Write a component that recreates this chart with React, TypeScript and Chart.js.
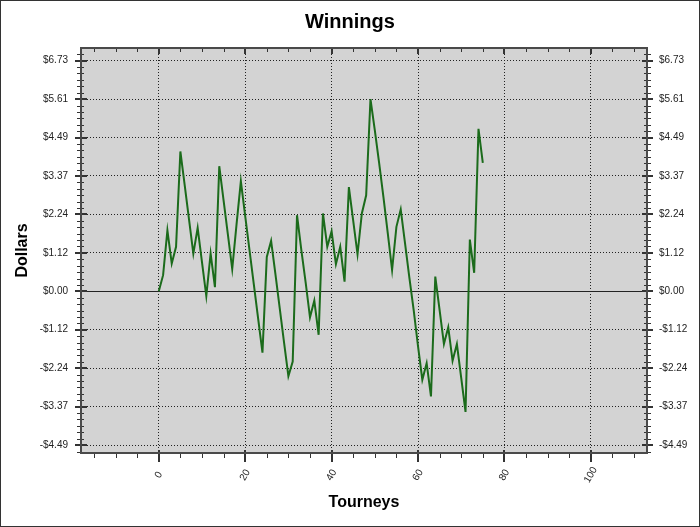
import React, { useEffect, useRef } from 'react';
import { Chart, registerables } from 'chart.js';

Chart.register(...registerables);

const tourneys = [
  0, 1, 2, 3, 4, 5, 6, 7, 8, 9, 10, 11, 12, 13, 14, 15, 16, 17, 18, 19,
  20, 21, 22, 23, 24, 25, 26, 27, 28, 29, 30, 31, 32, 33, 34, 35, 36, 37, 38, 39,
  40, 41, 42, 43, 44, 45, 46, 47, 48, 49, 50, 51, 52, 53, 54, 55, 56, 57, 58, 59,
  60, 61, 62, 63, 64, 65, 66, 67, 68, 69, 70, 71, 72, 73, 74, 75,
];

const winnings = [
  0.0, 0.47, 1.78, 0.81, 1.3, 4.08, 3.1, 2.1, 1.1, 1.85,
  0.85, -0.14, 1.1, 0.12, 3.65, 2.65, 1.65, 0.65, 1.95, 3.21,
  2.2, 1.2, 0.2, -0.8, -1.79, 1.0, 1.47, 0.5, -0.5, -1.5,
  -2.48, -2.05, 2.22, 1.2, 0.25, -0.76, -0.27, -1.27, 2.27, 1.3,
  1.75, 0.79, 1.3, 0.28, 3.04, 2.06, 1.08, 2.27, 2.8, 5.61,
  4.7, 3.75, 2.75, 1.7, 0.62, 1.88, 2.39, 1.4, 0.4, -0.55,
  -1.6, -2.58, -2.1, -3.07, 0.43, -0.55, -1.54, -1.05, -2.03, -1.54,
  -2.53, -3.52, 1.51, 0.54, 4.74, 3.75,
];

const xTickValues = [0, 20, 40, 60, 80, 100];
const yTickValues = [-4.49, -3.37, -2.24, -1.12, 0, 1.12, 2.24, 3.37, 4.49, 5.61, 6.73];

const X_MIN = -18;
const X_MAX = 113;
const Y_MIN = -4.72;
const Y_MAX = 7.1;

const CHART_TITLE = 'Winnings';
const X_TITLE = 'Tourneys';
const Y_TITLE = 'Dollars';

const FONT = '"Liberation Sans", Arial, sans-serif';

const fmtDollar = (v: number) => (v < 0 ? '-$' : '$') + Math.abs(v).toFixed(2);

const decorPlugin = {
  id: 'decor',
  beforeDraw(chart: any) {
    const { ctx, width, height, chartArea: a } = chart;
    ctx.save();
    ctx.fillStyle = '#ffffff';
    ctx.fillRect(0, 0, width, height);
    ctx.fillStyle = '#d3d3d3';
    ctx.fillRect(a.left, a.top, a.right - a.left, a.bottom - a.top);
    ctx.restore();
  },
  beforeDatasetsDraw(chart: any) {
    const { ctx, chartArea: a } = chart;
    const y = chart.scales.y;
    const y0 = Math.round(y.getPixelForValue(0)) + 0.5;
    ctx.save();
    ctx.strokeStyle = '#222222';
    ctx.lineWidth = 1;
    ctx.beginPath();
    ctx.moveTo(a.left, y0);
    ctx.lineTo(a.right, y0);
    ctx.stroke();
    ctx.restore();
  },
  afterDraw(chart: any) {
    const { ctx, chartArea: a, width, height } = chart;
    const xs = chart.scales.x;
    const ys = chart.scales.y;
    const line = (x1: number, y1: number, x2: number, y2: number) => {
      ctx.beginPath();
      ctx.moveTo(x1, y1);
      ctx.lineTo(x2, y2);
      ctx.stroke();
    };
    ctx.save();
    ctx.strokeStyle = '#333333';

    // y ticks (left and right), major + minor
    const first = yTickValues[0];
    const last = yTickValues[yTickValues.length - 1];
    const step = (last - first) / (yTickValues.length - 1);
    const minor = step / 6;
    const kMin = Math.ceil((Y_MIN - first) / minor);
    const kMax = Math.floor((Y_MAX - first) / minor);
    for (let k = kMin; k <= kMax; k++) {
      const v = first + k * minor;
      const isMajor = k % 6 === 0;
      const py = ys.getPixelForValue(v);
      if (isMajor) {
        ctx.lineWidth = 2;
        const yy = Math.round(py);
        line(a.left - 6, yy, a.left + 6, yy);
        line(a.right - 5, yy, a.right + 6, yy);
      } else {
        ctx.lineWidth = 1;
        const yy = Math.round(py) + 0.5;
        line(a.left - 4, yy, a.left + 3, yy);
        line(a.right - 3, yy, a.right + 4, yy);
      }
    }

    // x ticks (bottom outside, top inside)
    for (let v = -15; v <= X_MAX; v += 5) {
      const px = xs.getPixelForValue(v);
      const isMajor = xTickValues.indexOf(v) >= 0;
      if (isMajor) {
        ctx.lineWidth = 2;
        const xx = Math.round(px);
        line(xx, a.bottom - 3, xx, a.bottom + 9);
        line(xx, a.top, xx, a.top + 6);
      } else {
        ctx.lineWidth = 1;
        const xx = Math.round(px) + 0.5;
        line(xx, a.bottom, xx, a.bottom + 5);
        line(xx, a.top, xx, a.top + 4);
      }
    }

    // plot frame
    ctx.lineWidth = 2;
    ctx.strokeStyle = '#4a4a4a';
    ctx.strokeRect(a.left, a.top, a.right - a.left, a.bottom - a.top);

    // x tick labels, rotated
    ctx.fillStyle = '#222222';
    ctx.font = '10px ' + FONT;
    ctx.textAlign = 'center';
    ctx.textBaseline = 'middle';
    xTickValues.forEach((v) => {
      const px = xs.getPixelForValue(v);
      ctx.save();
      ctx.translate(px, a.bottom + 22);
      ctx.rotate(-Math.PI / 3);
      ctx.fillText(String(v), 0, 0);
      ctx.restore();
    });

    // outer border
    ctx.lineWidth = 1;
    ctx.strokeStyle = '#333333';
    ctx.strokeRect(0.5, 0.5, width - 1, height - 1);
    ctx.restore();
  },
};

export default function App() {
  const canvasRef = useRef<HTMLCanvasElement | null>(null);

  useEffect(() => {
    const canvas = canvasRef.current;
    if (!canvas) return;
    const setTicks = (values: number[]) => (scale: any) => {
      scale.ticks = values.map((v) => ({ value: v }));
    };
    const chart = new Chart(canvas, {
      type: 'line',
      data: {
        datasets: [
          {
            label: 'Winnings',
            data: tourneys.map((t, i) => ({ x: t, y: winnings[i] })),
            borderColor: '#1b6b1b',
            backgroundColor: '#1b6b1b',
            borderWidth: 2,
            pointRadius: 0,
            tension: 0,
            fill: false,
            yAxisID: 'y',
          },
        ],
      },
      options: {
        animation: false,
        responsive: false,
        maintainAspectRatio: false,
        events: [],
        layout: { padding: 0 },
        plugins: {
          legend: { display: false },
          tooltip: { enabled: false },
          title: {
            display: true,
            text: CHART_TITLE,
            color: '#000000',
            font: { family: FONT, size: 20, weight: 'bold', lineHeight: 1.2 },
            padding: { top: 10, bottom: 14 },
          },
        },
        scales: {
          x: {
            type: 'linear',
            position: 'bottom',
            min: X_MIN,
            max: X_MAX,
            afterBuildTicks: setTicks(xTickValues),
            afterFit: (s: any) => {
              s.height = 74;
            },
            ticks: { display: false },
            grid: { display: true, color: '#222222', lineWidth: 1, drawTicks: false },
            border: { display: false, dash: [1, 2] },
            title: {
              display: true,
              text: X_TITLE,
              color: '#000000',
              font: { family: FONT, size: 16, weight: 'bold', lineHeight: 1.2 },
              padding: { top: 0, bottom: 15 },
            },
          },
          y: {
            type: 'linear',
            position: 'left',
            min: Y_MIN,
            max: Y_MAX,
            afterBuildTicks: setTicks(yTickValues),
            afterFit: (s: any) => {
              s.width = 81;
            },
            ticks: {
              color: '#222222',
              font: { family: FONT, size: 10 },
              padding: 13,
              callback: (v: any) => fmtDollar(Number(v)),
            },
            grid: { display: true, color: '#222222', lineWidth: 1, drawTicks: false },
            border: { display: false, dash: [1, 2] },
            title: {
              display: true,
              text: Y_TITLE,
              color: '#000000',
              font: { family: FONT, size: 16, weight: 'bold', lineHeight: 1.2 },
              padding: { top: 13, bottom: 0 },
            },
          },
          y2: {
            type: 'linear',
            position: 'right',
            min: Y_MIN,
            max: Y_MAX,
            afterBuildTicks: setTicks(yTickValues),
            afterFit: (s: any) => {
              s.width = 53;
            },
            ticks: {
              color: '#222222',
              font: { family: FONT, size: 10 },
              padding: 12,
              callback: (v: any) => fmtDollar(Number(v)),
            },
            grid: { display: false, drawTicks: false },
            border: { display: false },
          },
        },
      },
      plugins: [decorPlugin],
    } as any);
    return () => {
      chart.destroy();
    };
  }, []);

  return (
    <div style={{ position: 'absolute', left: 0, top: 0, width: 700, height: 527 }}>
      <canvas ref={canvasRef} width={700} height={527} style={{ display: 'block' }} />
    </div>
  );
}
